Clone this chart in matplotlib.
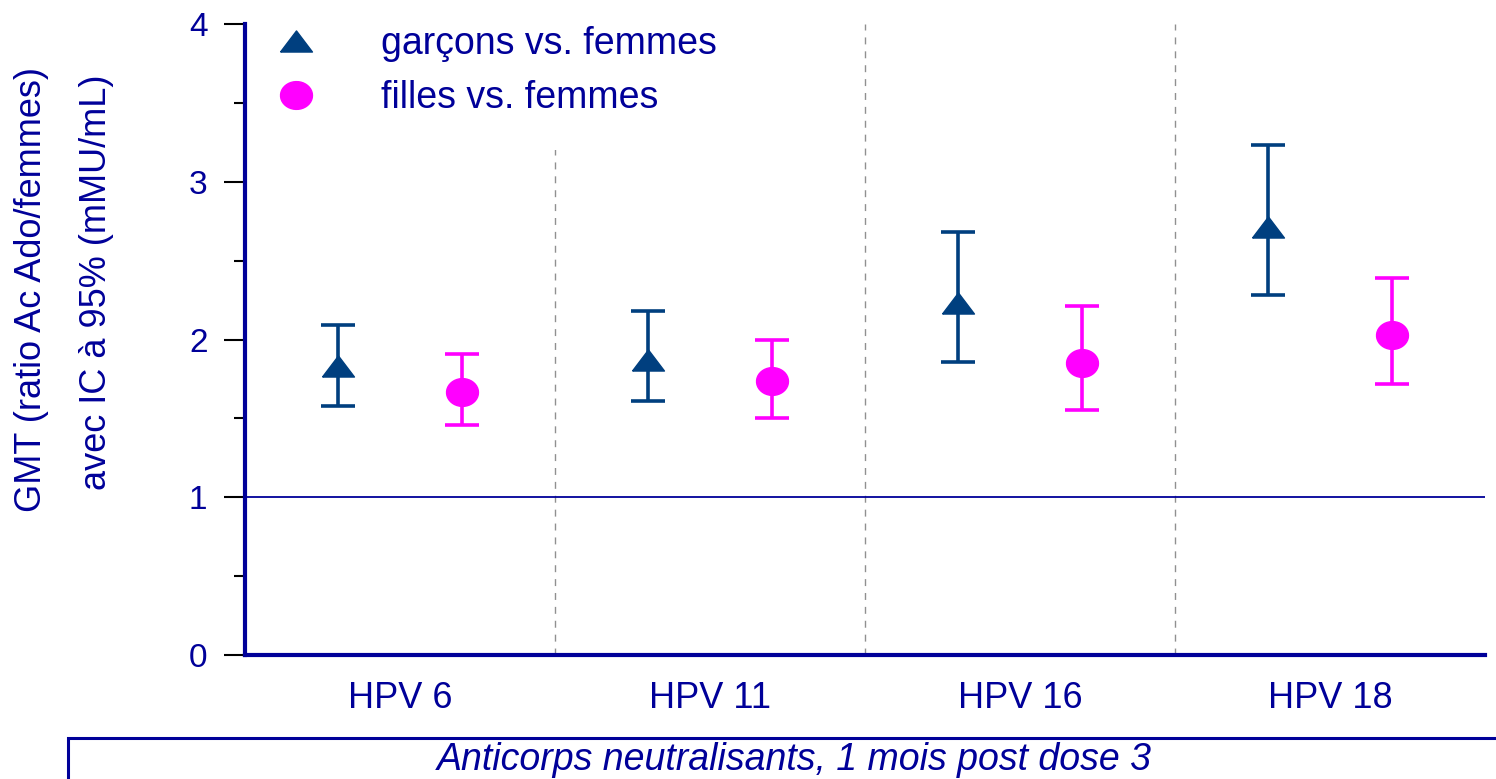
import numpy as np
import matplotlib
matplotlib.use('Agg')
import matplotlib.pyplot as plt
from matplotlib.lines import Line2D
from matplotlib.patches import Rectangle

plt.rcParams['font.family'] = ['Liberation Sans', 'DejaVu Sans']

# data
types = ['HPV 6', 'HPV 11', 'HPV 16', 'HPV 18']
boys_gmt = [1.83, 1.87, 2.23, 2.71]
boys_low = [1.58, 1.61, 1.86, 2.28]
boys_high = [2.09, 2.18, 2.68, 3.23]
girls_gmt = [1.67, 1.74, 1.85, 2.03]
girls_low = [1.46, 1.50, 1.55, 1.72]
girls_high = [1.91, 2.00, 2.21, 2.39]

navy = '#000099'
boy_col = '#003F7F'
girl_col = '#FF00FF'

# marker shapes: flat triangle and slightly squashed disc
tri = [(-1, -0.66), (1, -0.66), (0, 0.66), (-1, -0.66)]
t = np.linspace(0, 2 * np.pi, 40)
disc = list(zip(np.cos(t), 0.87 * np.sin(t)))

fig = plt.figure(figsize=(14.96, 7.79), dpi=100)
ax = fig.add_axes([245 / 1496, 1 - 655 / 779, 1240 / 1496, 631 / 779])

x = np.arange(len(types))
b = np.array(boys_gmt)
g = np.array(girls_gmt)
eb1 = ax.errorbar(x - 0.2, b, yerr=[b - np.array(boys_low), np.array(boys_high) - b],
                  fmt='none', ecolor=boy_col, elinewidth=2.6, capsize=12, capthick=2.6, zorder=3)
ax.plot(x - 0.2, b, linestyle='none', marker=tri, markersize=23, color=boy_col, zorder=4)
eb2 = ax.errorbar(x + 0.2, g, yerr=[g - np.array(girls_low), np.array(girls_high) - g],
                  fmt='none', ecolor=girl_col, elinewidth=2.6, capsize=12, capthick=2.6, zorder=3)
ax.plot(x + 0.2, g, linestyle='none', marker=disc, markersize=23, color=girl_col, zorder=4)

# separators and reference line
for s in [0.5, 1.5, 2.5]:
    ax.axvline(s, color='#909090', linestyle=(0, (5, 5)), linewidth=1, zorder=1)
ax.axhline(1, color=navy, linewidth=1.3, zorder=2)

ax.set_xlim(-0.5, 3.5)
ax.set_ylim(0, 4)
ax.set_yticks([0, 1, 2, 3, 4])
ax.set_yticks([0.5, 1.5, 2.5, 3.5], minor=True)
ax.set_xticks(x)
ax.set_xticklabels(types)
ax.tick_params(axis='y', which='major', length=15, width=1.5, color='black',
               labelsize=24, labelcolor=navy, pad=12)
ax.tick_params(axis='y', which='minor', length=8, width=1.5, color='black')
ax.tick_params(axis='x', length=0, labelsize=26, labelcolor=navy, pad=19)

for side in ['top', 'right']:
    ax.spines[side].set_visible(False)
for side in ['left', 'bottom']:
    ax.spines[side].set_color(navy)
    ax.spines[side].set_linewidth(3)

handles = [Line2D([], [], linestyle='none', marker=tri, markersize=23, color=boy_col),
           Line2D([], [], linestyle='none', marker=disc, markersize=23, color=girl_col)]
leg = ax.legend(handles, ['garçons vs. femmes', 'filles vs. femmes'],
                loc='upper left', bbox_to_anchor=(0.0, 1.032), fontsize=27,
                frameon=True, facecolor='white', edgecolor='none', framealpha=1,
                handlelength=1.5, handletextpad=1.52, labelspacing=0.47,
                borderpad=0.3, borderaxespad=0.3)
leg.get_frame().set_height(leg.get_frame().get_height())
for txt in leg.get_texts():
    txt.set_color(navy)
leg.set_zorder(5)

# white patch just below the legend, hiding the top of the first separator
ax.add_patch(Rectangle((0.2, 3.2), 0.5, 0.2, facecolor='white', edgecolor='none', zorder=2))

# y-axis title on two lines
fig.text(32 / 1496, 1 - 290 / 779, 'GMT (ratio Ac Ado/femmes)', rotation=90,
         ha='center', va='center', fontsize=26, color=navy)
fig.text(97 / 1496, 1 - 282 / 779, 'avec IC à 95% (mMU/mL)', rotation=90,
         ha='center', va='center', fontsize=26, color=navy)

# caption box at bottom
fig.add_artist(Rectangle((68 / 1496, -0.1), 1.2, 0.1 + 1 - 738 / 779,
                         transform=fig.transFigure, fill=False,
                         edgecolor=navy, linewidth=2.2))
fig.text(794 / 1496, 1 - 760 / 779, 'Anticorps neutralisants, 1 mois post dose 3',
         ha='center', va='center', fontsize=27, style='italic', color=navy)

plt.savefig('out.png', dpi=100)
